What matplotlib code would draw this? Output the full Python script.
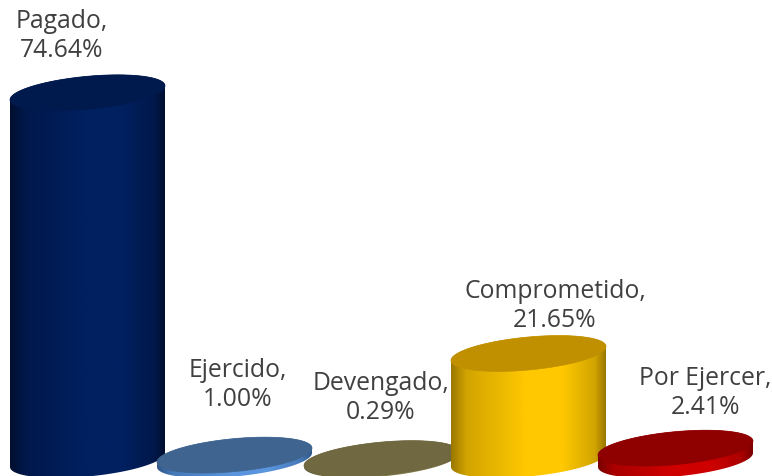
import numpy as np
import matplotlib
matplotlib.use("Agg")
import matplotlib.pyplot as plt
from matplotlib.colors import LinearSegmentedColormap, to_rgb
from matplotlib.path import Path
from matplotlib.patches import PathPatch

categories = ["Pagado", "Ejercido", "Devengado", "Comprometido", "Por Ejercer"]
values = [74.64, 1.00, 0.29, 21.65, 2.41]

# styles
top_colors = ["#001a4e", "#3f648f", "#6f6840", "#c09000", "#8f0000"]
edge_colors = ["#000f30", "#2f5688", "#5a5430", "#9a7800", "#7a0000"]
mid_colors = ["#002060", "#5a95de", "#7f7848", "#ffc800", "#d00000"]
draw_order = [0, 2, 1, 3, 4]
label_px = [(62, 36), (238, 385), (381, 398), (555, 306), (705, 393)]

W, H = 772, 477
PX_PER_PCT = 4.92
PX_PER_CAT = 147.0
BASE_PX = 461.0
X0_PX = 87.5
BAR_W = 155 / PX_PER_CAT
B = 16.5 / PX_PER_PCT   # ellipse half-height, in % units
S = 7.0 / PX_PER_PCT    # tilt of ellipse, in % units

plt.rcParams["font.family"] = ["Open Sans", "DejaVu Sans"]
fig = plt.figure(figsize=(W / 100, H / 100), dpi=100)
ax = fig.add_axes([0, 0, 1, 1])
xlim = (-X0_PX / PX_PER_CAT, (W - X0_PX) / PX_PER_CAT)
ylim = ((BASE_PX - H) / PX_PER_PCT, BASE_PX / PX_PER_PCT)

t = np.linspace(0, 2 * np.pi, 121)


def ell(xc, yc, tt):
    return xc + BAR_W / 2 * np.cos(tt), yc + B * np.sin(tt) + S * np.cos(tt)


for i in draw_order:
    x, v = i, values[i]
    tu = np.linspace(0, np.pi, 60)
    tl = np.linspace(np.pi, 2 * np.pi, 60)
    xu, yu = ell(x, v, tu)
    xl, yl = ell(x, 0, tl)
    pts = np.column_stack([np.r_[xu, xl], np.r_[yu, yl]])
    body = PathPatch(Path(np.vstack([pts, pts[0]]), closed=True), fc="none", ec="none",
                     transform=ax.transData)
    ax.add_patch(body)
    e, m = np.array(to_rgb(edge_colors[i])), np.array(to_rgb(mid_colors[i]))
    mix = tuple(0.45 * e + 0.55 * m)
    cmap = LinearSegmentedColormap.from_list(
        "c", [(0, e), (0.1, mix), (0.48, m), (0.72, m), (0.93, mix), (1, e)])
    im = ax.imshow(np.linspace(0, 1, 256).reshape(1, -1), cmap=cmap, aspect="auto",
                   extent=(x - BAR_W / 2, x + BAR_W / 2, -B - S - 1, v + B + S + 1),
                   zorder=2 + draw_order.index(i))
    im.set_clip_path(body)
    xt, yt = ell(x, v, t)
    ax.fill(xt, yt, color=top_colors[i], lw=0.5, zorder=2 + draw_order.index(i) + 0.5)
    lx, ly = label_px[i]
    ax.annotate(f"{categories[i]},\n{v:.2f}%", xy=(lx / W, 1 - ly / H), xycoords="axes fraction",
                ha="center", va="center", fontsize=17.8, color="#404040",
                linespacing=1.24, zorder=20)

ax.set_xlim(*xlim)
ax.set_ylim(*ylim)
ax.axis("off")
fig.savefig("out.png", dpi=100)
